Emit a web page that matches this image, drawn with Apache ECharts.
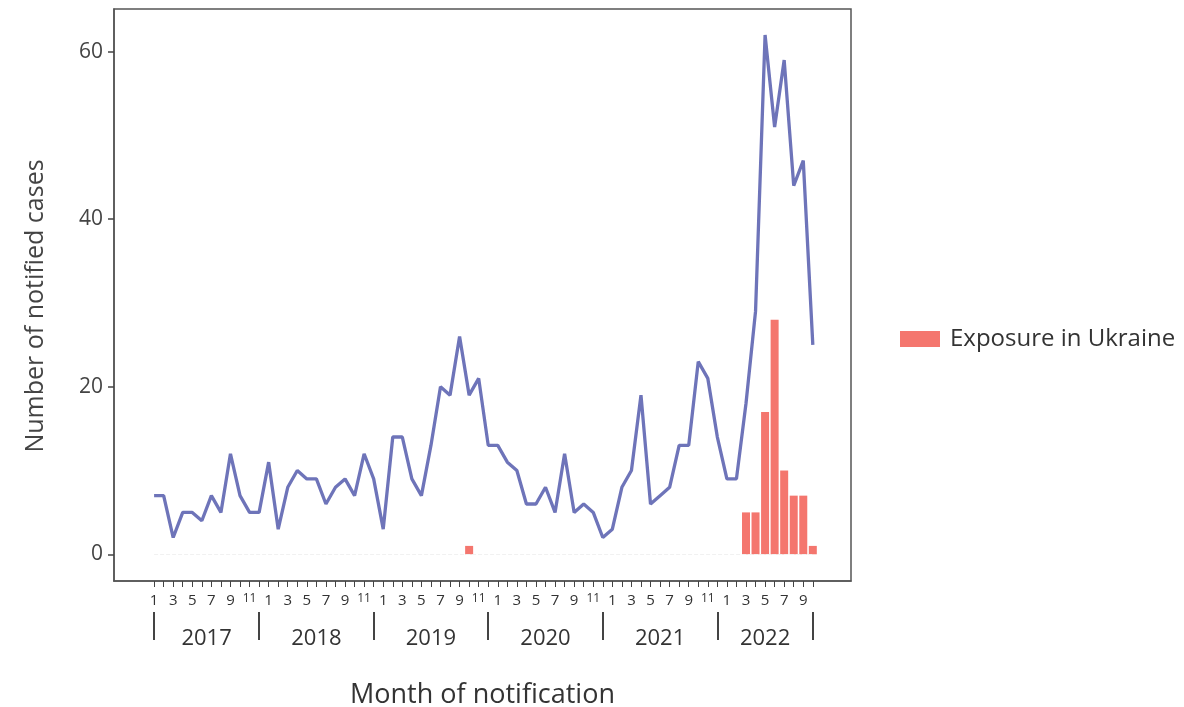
<!DOCTYPE html>
<html>
<head>
<meta charset="utf-8">
<script src="https://cdn.jsdelivr.net/npm/echarts@6/dist/echarts.min.js"></script>
<style>
  html, body { margin: 0; padding: 0; background: #ffffff; }
  #chart { width: 1184px; height: 707px; }
</style>
</head>
<body>
<div id="chart"></div>
<script>
// Notified cases per month, January 2017 to October 2022
const years = [2017, 2018, 2019, 2020, 2021, 2022];
const firstYear = 2017;
const totalCases = [
  // 2017
  7, 7, 2, 5, 5, 4, 7, 5, 12, 7, 5, 5,
  // 2018
  11, 3, 8, 10, 9, 9, 6, 8, 9, 7, 12, 9,
  // 2019
  3, 14, 14, 9, 7, 13, 20, 19, 26, 19, 21, 13,
  // 2020
  13, 11, 10, 6, 6, 8, 5, 12, 5, 6, 5, 2,
  // 2021
  3, 8, 10, 19, 6, 7, 8, 13, 13, 23, 21, 14,
  // 2022 (to October)
  9, 9, 18, 29, 62, 51, 59, 44, 47, 25
];
// Cases with exposure in Ukraine: [year, month, cases]
const ukraineMonths = [
  [2019, 10, 1],
  [2022, 3, 5], [2022, 4, 5], [2022, 5, 17], [2022, 6, 28],
  [2022, 7, 10], [2022, 8, 7], [2022, 9, 7], [2022, 10, 1]
];
const yTicks = [0, 20, 40, 60];
const monthLabels = [1, 3, 5, 7, 9, 11];

const monthIndex = (y, m) => (y - firstYear) * 12 + (m - 1);
const lastIndex = totalCases.length - 1;
const lineData = totalCases.map((v, i) => [i, v]);
const barData = ukraineMonths.map(([y, m, v]) => [monthIndex(y, m), v]);

const allTicks = totalCases.map((_, i) => i);
const oddMonthTicks = allTicks.filter(i => monthLabels.includes((i % 12) + 1));
// year separators: start, each December, end of series
const yearSeps = [0];
years.forEach(y => {
  const dec = monthIndex(y, 12);
  if (dec < lastIndex) yearSeps.push(dec);
});
yearSeps.push(lastIndex);
const yearCenters = years.map((_, k) => (yearSeps[k] + yearSeps[k + 1]) / 2);

const FONT = '"Open Sans", "DejaVu Sans", sans-serif';
const frame = '#555555';

const chart = echarts.init(document.getElementById('chart'), null, { renderer: 'canvas' });
chart.setOption({
  animation: false,
  backgroundColor: '#ffffff',
  textStyle: { fontFamily: FONT },
  grid: {
    left: 114, top: 9, right: 333, bottom: 126,
    outerBoundsMode: 'none', containLabel: false,
    show: true, borderColor: frame, borderWidth: 1.5, backgroundColor: 'transparent'
  },
  legend: {
    data: [{ name: 'Exposure in Ukraine', icon: 'rect' }],
    left: 895, top: 322,
    itemWidth: 40, itemHeight: 16, itemGap: 10,
    textStyle: { fontSize: 24, color: '#333', fontFamily: FONT, padding: [0, 0, 0, 5] }
  },
  xAxis: [
    {
      type: 'value', min: -4.2, max: 73, position: 'bottom',
      axisLine: { show: true, onZero: false, lineStyle: { color: frame, width: 1.5 } },
      splitLine: { show: false },
      axisTick: { show: true, customValues: allTicks, length: 6, lineStyle: { color: '#444', width: 1 } },
      axisLabel: {
        show: true, customValues: oddMonthTicks, margin: 12, color: '#333', fontSize: 15,
        formatter: v => {
          const m = (Math.round(v) % 12) + 1;
          return m >= 10 ? '{s|' + m + '}' : String(m);
        },
        rich: { s: { fontSize: 12, color: '#333' } }
      }
    },
    {
      type: 'value', min: -4.2, max: 73, position: 'bottom', offset: 31,
      axisLine: { show: false, onZero: false },
      splitLine: { show: false },
      axisTick: { show: true, customValues: yearSeps, length: 28, inside: false, lineStyle: { color: '#444', width: 2 } },
      axisLabel: {
        show: true, customValues: yearCenters, margin: 16, color: '#333', fontSize: 22,
        formatter: v => {
          const k = yearCenters.findIndex(c => Math.abs(c - v) < 0.01);
          return k >= 0 ? String(years[k]) : '';
        }
      },
      name: 'Month of notification', nameLocation: 'middle', nameGap: 70,
      nameTextStyle: { fontSize: 27, color: '#333', fontFamily: FONT }
    }
  ],
  yAxis: {
    type: 'value', min: -3.19, max: 65.1,
    axisLine: { show: true, onZero: false, lineStyle: { color: frame, width: 1.5 } },
    splitLine: { show: false },
    axisTick: { show: true, customValues: yTicks, length: 6, lineStyle: { color: '#444', width: 1.5 } },
    axisLabel: { show: true, customValues: yTicks, margin: 11, color: '#444', fontSize: 21 },
    name: 'Number of notified cases', nameLocation: 'middle', nameGap: 66, nameRotate: 90,
    nameTextStyle: { fontSize: 25, color: '#444', fontFamily: FONT, padding: [0, 22, 0, 0] }
  },
  series: [
    {
      name: 'Exposure in Ukraine', type: 'bar', xAxisIndex: 0,
      data: barData, barWidth: 8,
      itemStyle: { color: '#f4766e' },
      markLine: {
        silent: true, symbol: 'none', label: { show: false },
        lineStyle: { color: '#f1f1f1', width: 1, type: 'dashed' },
        data: [[{ coord: [0, 0] }, { coord: [lastIndex, 0] }]]
      },
      z: 2
    },
    {
      name: 'Total', type: 'line', xAxisIndex: 0,
      data: lineData, showSymbol: false, symbol: 'none',
      lineStyle: { color: '#6e74b9', width: 3.3 },
      itemStyle: { color: '#6e74b9' },
      z: 3
    }
  ]
});
</script>
</body>
</html>
